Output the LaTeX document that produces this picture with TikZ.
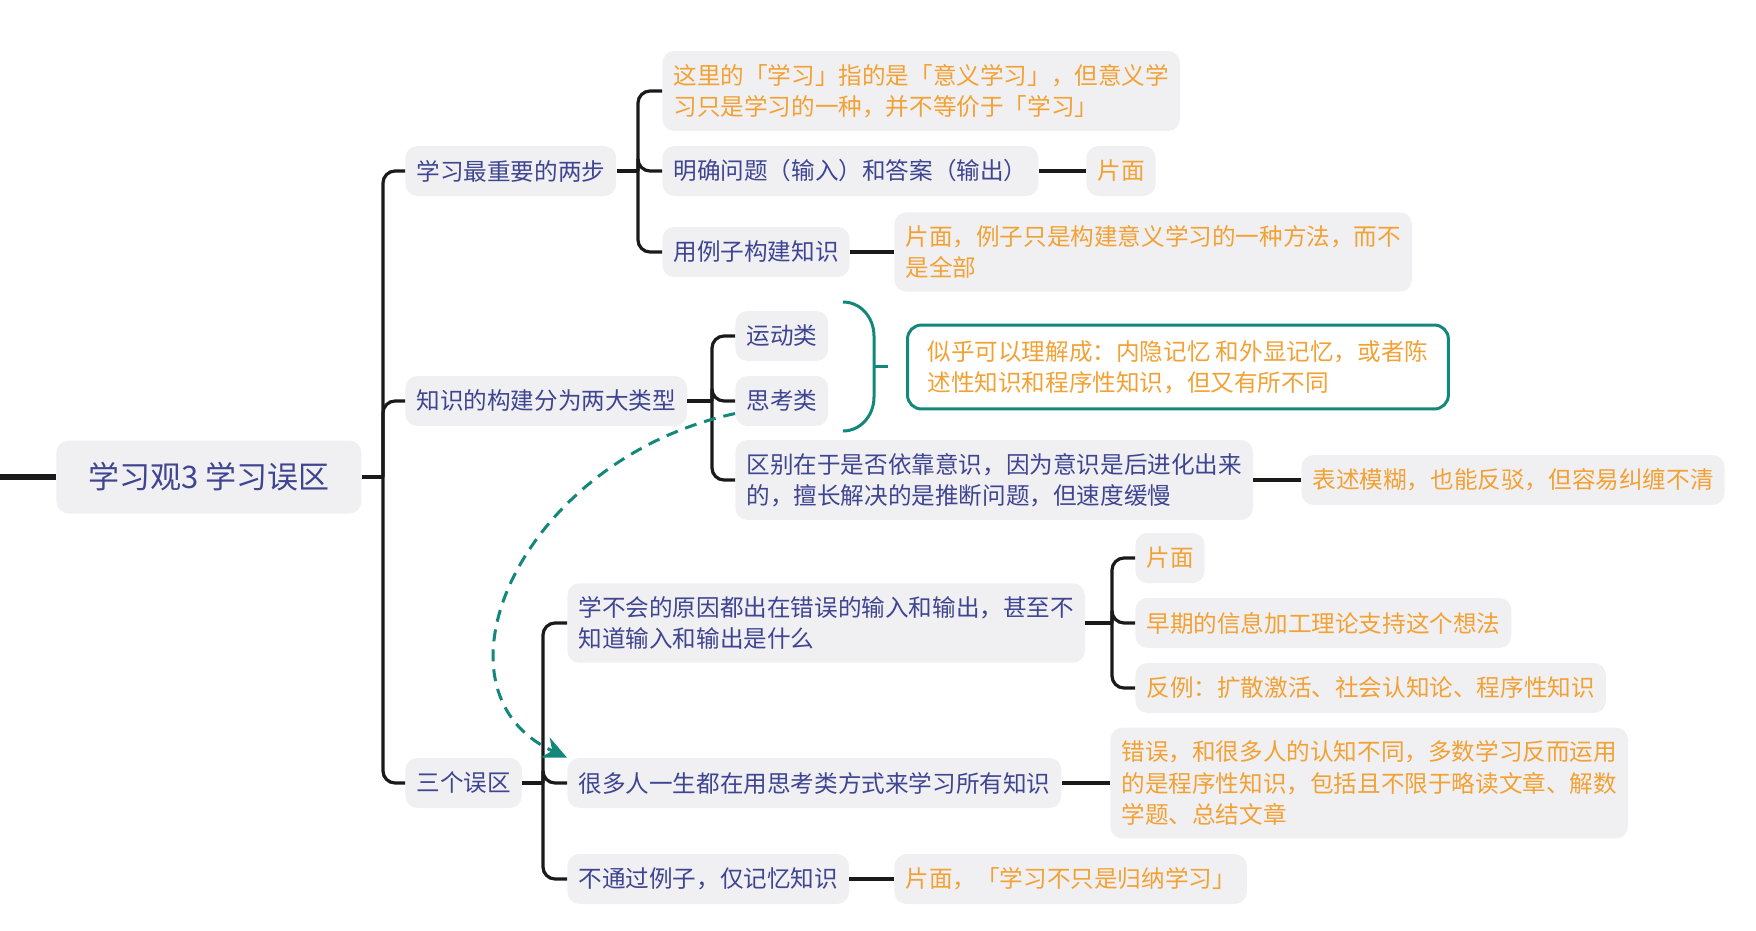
\documentclass[tikz,border=0pt]{standalone}
\usepackage{fontspec}
\setmainfont{Noto Sans CJK SC}
\usepackage{tikz}
\usetikzlibrary{positioning,calc,arrows.meta}
\definecolor{ink}   {HTML}{1A1A1A}
\definecolor{indigo}{HTML}{3F4591}
\definecolor{amber} {HTML}{F2A134}
\definecolor{jade}  {HTML}{13877A}
\definecolor{paper} {HTML}{F0F0F2}
\tikzset{
  >=Stealth,
  % --- nodes
  topic/.style  = {rounded corners=6pt, fill=paper, align=left, anchor=west,
                   inner xsep=5.5pt, inner ysep=6.5pt, minimum height=25pt,
                   font=\fontsize{11.8}{15.7}\selectfont, text=indigo},
  note/.style   = {topic, text=amber},
  hub/.style    = {topic, align=center, minimum width=152.5pt, minimum height=36.5pt,
                   font=\fontsize{15.5}{18}\selectfont},
  sumbox/.style = {note, fill=white, draw=jade, line width=1.5pt, rounded corners=7pt,
                   inner xsep=10pt, inner ysep=7.5pt},
  % --- edges
  e/.style      = {draw=ink, line width=1.6pt, rounded corners=6pt},
  brace/.style  = {draw=jade, line width=1.5pt},
  link/.style   = {draw=jade, line width=1.5pt, dash pattern=on 6pt off 4pt,
                   -{Stealth[length=12pt,width=11pt]}},
}
\begin{document}
\begin{tikzpicture}[x=0.5pt,y=-0.5pt]
  \useasboundingbox (0,0) rectangle (1756,931);
  \coordinate (lead) at (0,477);
  \node[hub] (root) at (56,477) {学习观3 学习误区};

  \node[topic] (n1) at (405,171) {学习最重要的两步};
  \node[topic] (n2) at (405,401) {知识的构建分为两大类型};
  \node[topic] (n3) at (405,783) {三个误区};

  % two steps
  \node[note]  (a1)  at (662,91)   {这里的「学习」指的是「意义学习」，但意义学\\习只是学习的一种，并不等价于「学习」};
  \node[topic] (a2)  at (662,171)  {明确问题（输入）和答案（输出）};
  \node[note]  (a2x) at (1086,171) {片面};
  \node[topic] (a3)  at (662,252)  {用例子构建知识};
  \node[note]  (a3x) at (894,252)  {片面，例子只是构建意义学习的一种方法，而不\\是全部};

  % two kinds
  \node[topic] (b1)  at (735,336)  {运动类};
  \node[topic] (b2)  at (735,401)  {思考类};
  \node[topic] (b3)  at (735,480)  {区别在于是否依靠意识，因为意识是后进化出来\\的，擅长解决的是推断问题，但速度缓慢};
  \node[note]  (b3x) at (1301,480) {表述模糊，也能反驳，但容易纠缠不清};
  \node[sumbox] (b4) at (906,367)  {似乎可以理解成：内隐记忆 和外显记忆，或者陈\\述性知识和程序性知识，但又有所不同};

  % three pitfalls
  \node[topic] (c1)  at (567,623)  {学不会的原因都出在错误的输入和输出，甚至不\\知道输入和输出是什么};
  \node[note]  (d1)  at (1135,558) {片面};
  \node[note]  (d2)  at (1135,623) {早期的信息加工理论支持这个想法};
  \node[note]  (d3)  at (1135,688) {反例：扩散激活、社会认知论、程序性知识};
  \node[topic] (c2)  at (567,783)  {很多人一生都在用思考类方式来学习所有知识};
  \node[note]  (c2x) at (1110,783) {错误，和很多人的认知不同，多数学习反而运用\\的是程序性知识，包括且不限于略读文章、解数\\学题、总结文章};
  \node[topic] (c3)  at (567,879)  {不通过例子，仅记忆知识};
  \node[note]  (c3x) at (894,879)  {片面，「学习不只是归纳学习」};

  % forks
  \coordinate (f0) at (383,477);  \coordinate (f1) at (638,171);
  \coordinate (f2) at (712,401);  \coordinate (f3) at (543,783);
  \coordinate (f4) at (1112,623);
  \draw[e, line width=2.6pt] (lead) -- (root);
  \draw[e] (root) -- (f0); \draw[e] (n1) -- (f1); \draw[e] (n2) -- (f2);
  \draw[e] (n3) -- (f3);   \draw[e] (c1) -- (f4);
  \foreach \c in {n1,n2,n3} \draw[e] (f0) |- (\c.west);
  \foreach \c in {a1,a2,a3} \draw[e] (f1) |- (\c.west);
  \foreach \c in {b1,b2,b3} \draw[e] (f2) |- (\c.west);
  \foreach \c in {c1,c2,c3} \draw[e] (f3) |- (\c.west);
  \foreach \c in {d1,d2,d3} \draw[e] (f4) |- (\c.west);
  \draw[e] (a2) -- (a2x); \draw[e] (a3) -- (a3x); \draw[e] (b3) -- (b3x);
  \draw[e] (c2) -- (c2x); \draw[e] (c3) -- (c3x);

  % summary brace
  \coordinate (tick) at (888,366);
  \draw[brace] (843,302) to[out=0,in=90] (874,336) -- (874,397) to[out=-90,in=0] (843,431);
  \draw[brace] (874,366) -- (tick);

  \draw[link] (b2.195) .. controls (520,460) and (420,690) .. (c2.north west);
\end{tikzpicture}
\end{document}
